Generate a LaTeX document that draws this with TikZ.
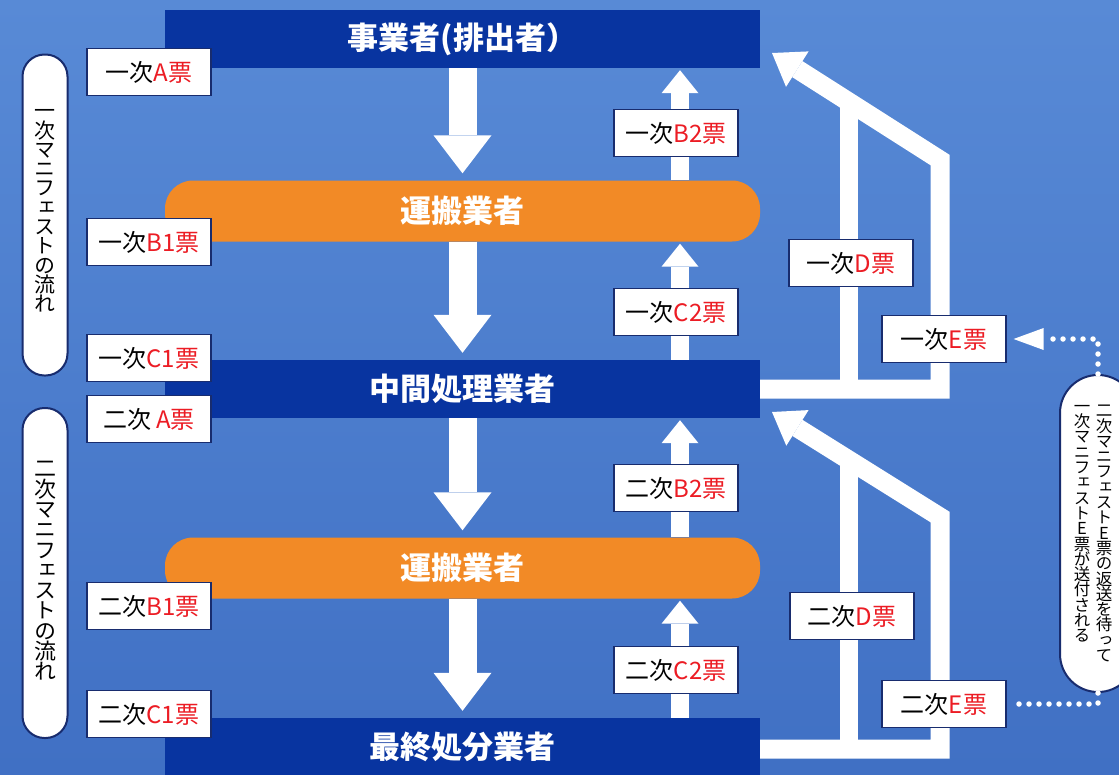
\documentclass[tikz,border=0pt]{standalone}
\usepackage{fontspec}
\setmainfont{Noto Sans CJK JP}
\newfontfamily\tatefont[RawFeature=+vert]{Noto Sans CJK JP}
\usetikzlibrary{arrows.meta,positioning}
\definecolor{navybar}{RGB}{8,52,160}
\definecolor{carrierorange}{RGB}{242,138,38}
\definecolor{tktred}{RGB}{236,28,36}
\definecolor{tktline}{RGB}{24,44,110}
\definecolor{bgtop}{RGB}{88,138,214}
\definecolor{bgbottom}{RGB}{64,112,196}
\newcommand\tkt[2]{#1{\color{tktred}#2}}
\setlength{\lineskiplimit}{-50pt}
\tikzset{
  company/.style={fill=navybar, text=white, minimum width=595pt, minimum height=58pt, font=\fontsize{31}{34}\selectfont\bfseries},
  carrier/.style={fill=carrierorange, text=white, rounded corners=28pt, minimum width=595pt, minimum height=61pt, font=\fontsize{31}{34}\selectfont\bfseries},
  ticket/.style={draw=tktline, line width=1.2pt, fill=white, minimum width=124pt, minimum height=47pt, font=\fontsize{24}{26}\selectfont},
  flowpill/.style={draw=tktline, line width=2pt, fill=white, rounded corners=22pt, minimum width=45pt, align=center},
  tate/.style 2 args={align=center, font=\tatefont\fontsize{#1}{#2}\selectfont},
  downarrow/.style={white, line width=28pt, -{Triangle[width=58pt,length=38pt,line width=0pt]}, shorten >=7pt},
  uparrow/.style={white, line width=18pt, -{Triangle[width=37pt,length=23pt,line width=0pt]}, shorten >=2pt},
  backarrow/.style={white, line width=19pt, line join=miter, -{Triangle[width=42pt,length=30pt,line width=0pt]}},
  backleg/.style={white, line width=18pt},
  dotline/.style={white, line width=5.5pt, line cap=round, dash pattern=on 0pt off 10pt}
}
\begin{document}
\begin{tikzpicture}[x=1pt, y=-1pt]
\tikzstyle{every node}+=[inner sep=0pt]
\useasboundingbox (0,0) rectangle (1119,774);
\shade[top color=bgtop, bottom color=bgbottom] (0,0) rectangle (1119,774);

\node[company] (emitter) at (462.5,39) {事業者(排出者）};
\node[carrier] (carrier1) at (462.5,211) {運搬業者};
\node[company] (mid) at (462.5,389) {中間処理業者};
\node[carrier] (carrier2) at (462.5,568) {運搬業者};
\node[company] (final) at (462.5,747) {最終処分業者};

\coordinate (upx) at (680,0);
\coordinate (rcol) at (940,0);
\coordinate (lcol) at (849,0);
\coordinate (bend1) at (940,160);
\coordinate (tip1) at (772,53);
\coordinate (join1) at (849,102);
\coordinate (out2) at ([yshift=-2pt]final.east);
\coordinate (bend2) at (940,517);
\coordinate (tip2) at (772,412);
\coordinate (join2) at (849,460);

\draw[downarrow] (emitter.south) -- (carrier1.north);
\draw[downarrow] (carrier1.south) -- (mid.north);
\draw[downarrow] (mid.south) -- (carrier2.north);
\draw[downarrow] (carrier2.south) -- (final.north);

\draw[uparrow] (carrier1.north -| upx) -- (emitter.south -| upx);
\draw[uparrow] (mid.north -| upx) -- (carrier1.south -| upx);
\draw[uparrow] (carrier2.north -| upx) -- (mid.south -| upx);
\draw[uparrow] (final.north -| upx) -- (carrier2.south -| upx);

\draw[backarrow] (mid.east) -- (mid.east -| rcol) -- (bend1) -- (tip1);
\draw[backleg] (mid.east -| lcol) -- (join1);
\draw[backarrow] (out2) -- (out2 -| rcol) -- (bend2) -- (tip2);
\draw[backleg] (out2 -| lcol) -- (join2);

\node[ticket] (a1) at (149,72) {\tkt{一次}{A票}};
\node[ticket] (b1a) at (149,242) {\tkt{一次}{B1票}};
\node[ticket] (c1a) at (149,358) {\tkt{一次}{C1票}};
\node[ticket] (a2) at (149,419) {\tkt{二次 }{A票}};
\node[ticket] (b1b) at (149,606) {\tkt{二次}{B1票}};
\node[ticket] (c1b) at (149,714) {\tkt{二次}{C1票}};
\node[ticket] (b2a) at (676,133) {\tkt{一次}{B2票}};
\node[ticket] (c2a) at (676,312) {\tkt{一次}{C2票}};
\node[ticket] (b2b) at (676,488) {\tkt{二次}{B2票}};
\node[ticket] (c2b) at (676,670) {\tkt{二次}{C2票}};
\node[ticket] (d1) at (851,263) {\tkt{一次}{D票}};
\node[ticket] (e1) at (944,339) {\tkt{一次}{E票}};
\node[ticket] (d2) at (852,616) {\tkt{二次}{D票}};
\node[ticket] (e2) at (944,704) {\tkt{二次}{E票}};

\node[flowpill, minimum height=321pt] (flow1) at (45,215) {};
\node[tate={21}{19.3}] (flow1txt) at (45,211) {一\\次\\マ\\ニ\\フ\\ェ\\ス\\ト\\の\\流\\れ};
\node[flowpill, minimum height=330pt] (flow2) at (45,573) {};
\node[tate={22}{20.3}] (flow2txt) at (45,571) {二\\次\\マ\\ニ\\フ\\ェ\\ス\\ト\\の\\流\\れ};
\node[flowpill, rounded corners=38pt, minimum width=76pt, minimum height=317pt] (notice) at (1098,533.5) {};
\node[tate={16.5}{15.3}, anchor=north] (notice2) at (1104,405)
  {二\\次\\マ\\ニ\\フ\\ェ\\ス\\ト\\E\\票\\の\\返\\送\\を\\待\\っ\\て};
\node[tate={16.5}{15.3}, anchor=north] (notice1) at (1082,405)
  {一\\次\\マ\\ニ\\フ\\ェ\\ス\\ト\\E\\票\\が\\送\\付\\さ\\れ\\る};

\draw[dotline, -{Triangle[width=22pt,length=30pt,line width=0pt]}, shorten >=7pt] (notice.north) -- (notice.north |- e1) -- (e1.east);
\draw[dotline, shorten >=4pt] (notice.south) -- (notice.south |- e2) -- (e2.east);
\end{tikzpicture}
\end{document}
